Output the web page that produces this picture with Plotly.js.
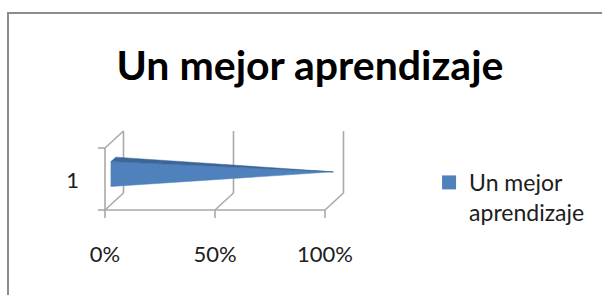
<!DOCTYPE html>
<html>
<head>
<meta charset="utf-8">
<script src="https://cdn.plot.ly/plotly-3.0.1.min.js"></script>
<style>
  html, body { margin: 0; padding: 0; background: #ffffff; }
  #chart { width: 602px; height: 295px; }
</style>
</head>
<body>
<div id="chart"></div>
<script>
// ---- data ----
const chartTitle = 'Un mejor aprendizaje';
const categories = ['1'];
const seriesName = 'Un mejor aprendizaje';
const seriesValues = [100];          // percent of category total (100% stacked)
const xTickVals = [0, 50, 100];
const xTickText = ['0%', '50%', '100%'];

// ---- 3D look (style) ----
const WALL_H = 62;        // wall height in y units
const DX = 8.4;           // depth offset in x units (full depth)
const DY = 17;            // depth offset in y units (full depth)
const D1 = 0.32, D2 = 0.58;   // bar depth band
const BAR_LO = 18, BAR_HI = 43; // bar height band
const CAT_Y = 30;
const gridColor = '#A9A9A9';
const blue = '#4F81BD';
const blueTop = '#3B6699';

// gridlines / walls built from tick values
const gx = [], gy = [];
function seg(x0, y0, x1, y1) { gx.push(x0, x1, null); gy.push(y0, y1, null); }
const TK = 3.2;
seg(0, 0, 0, WALL_H);
seg(-TK, 0, 0, 0);
seg(-TK, WALL_H, 0, WALL_H);
seg(0, WALL_H, DX, WALL_H + DY);
seg(0, 0, xTickVals[xTickVals.length - 1], 0);
xTickVals.forEach(v => {
  seg(v, 0, v + DX, DY);
  seg(v + DX, DY, v + DX, WALL_H + DY);
  seg(v, 0, v, -8);
});

const traces = [
  { type: 'scatter', mode: 'lines', x: gx, y: gy, hoverinfo: 'skip',
    line: { color: gridColor, width: 1.6 }, showlegend: false }
];

seriesValues.forEach((v, i) => {
  const yc = (BAR_LO + BAR_HI) / 2;
  const dm = (D1 + D2) / 2;
  const tipX = v + DX * dm, tipY = yc + DY * dm;
  // front face
  traces.push({ type: 'scatter', mode: 'lines', fill: 'toself', fillcolor: blue,
    x: [DX * D1, DX * D1, tipX, DX * D1],
    y: [BAR_LO + DY * D1, BAR_HI + DY * D1, tipY, BAR_LO + DY * D1],
    line: { width: 0.5, color: blue }, showlegend: false, hoverinfo: 'skip' });
  // top face
  traces.push({ type: 'scatter', mode: 'lines', fill: 'toself', fillcolor: blueTop,
    x: [DX * D1, DX * D2, tipX, DX * D1],
    y: [BAR_HI + DY * D1, BAR_HI + DY * D2, tipY, BAR_HI + DY * D1],
    line: { width: 0.5, color: blueTop }, showlegend: false, hoverinfo: 'skip' });
});

// legend entry
traces.push({ type: 'scatter', mode: 'markers', x: [null], y: [null],
  name: 'Un mejor<br>aprendizaje',
  marker: { symbol: 'square', size: 14, color: blue }, showlegend: true });

const layout = {
  width: 602, height: 295,
  paper_bgcolor: '#ffffff', plot_bgcolor: 'rgba(0,0,0,0)',
  margin: { l: 83, r: 233, t: 120, b: 70 },
  font: { family: 'Lato, "Open Sans", sans-serif', color: '#000000' },
  title: {
    text: chartTitle, x: 0.515, xref: 'container', xanchor: 'center',
    y: 1 - 51 / 295, yref: 'container', yanchor: 'top',
    font: { family: 'Lato, sans-serif', size: 41, weight: 700, color: '#000000' }
  },
  xaxis: {
    range: [-10, 120], showgrid: false, zeroline: false, showline: false,
    tickvals: xTickVals, ticktext: xTickText, ticks: '',
    ticklabelstandoff: 14,
    tickfont: { size: 22, color: '#202020' }, fixedrange: true
  },
  yaxis: {
    range: [-15, 90], showgrid: false, zeroline: false, showline: false,
    tickvals: [CAT_Y], ticktext: categories, ticks: '',
    ticklabelstandoff: 3,
    tickfont: { size: 22, color: '#202020' }, fixedrange: true
  },
  showlegend: true,
  legend: {
    x: 1.21, xanchor: 'left', y: 0.61, yanchor: 'top', valign: 'top',
    font: { size: 23, color: '#202020' }, bgcolor: 'rgba(0,0,0,0)',
    tracegroupgap: 0
  },
  shapes: [
    { type: 'line', xref: 'paper', yref: 'paper',
      x0: (8 - 83) / 286, x1: (8 - 83) / 286, y0: (225 - 13) / 105, y1: (225 - 300) / 105,
      line: { color: '#8C8C8C', width: 2 } },
    { type: 'line', xref: 'paper', yref: 'paper',
      x0: (7 - 83) / 286, x1: (605 - 83) / 286, y0: (225 - 13) / 105, y1: (225 - 13) / 105,
      line: { color: '#8C8C8C', width: 2 } }
  ]
};

Plotly.newPlot('chart', traces, layout, { displayModeBar: false, staticPlot: true });
</script>
</body>
</html>
